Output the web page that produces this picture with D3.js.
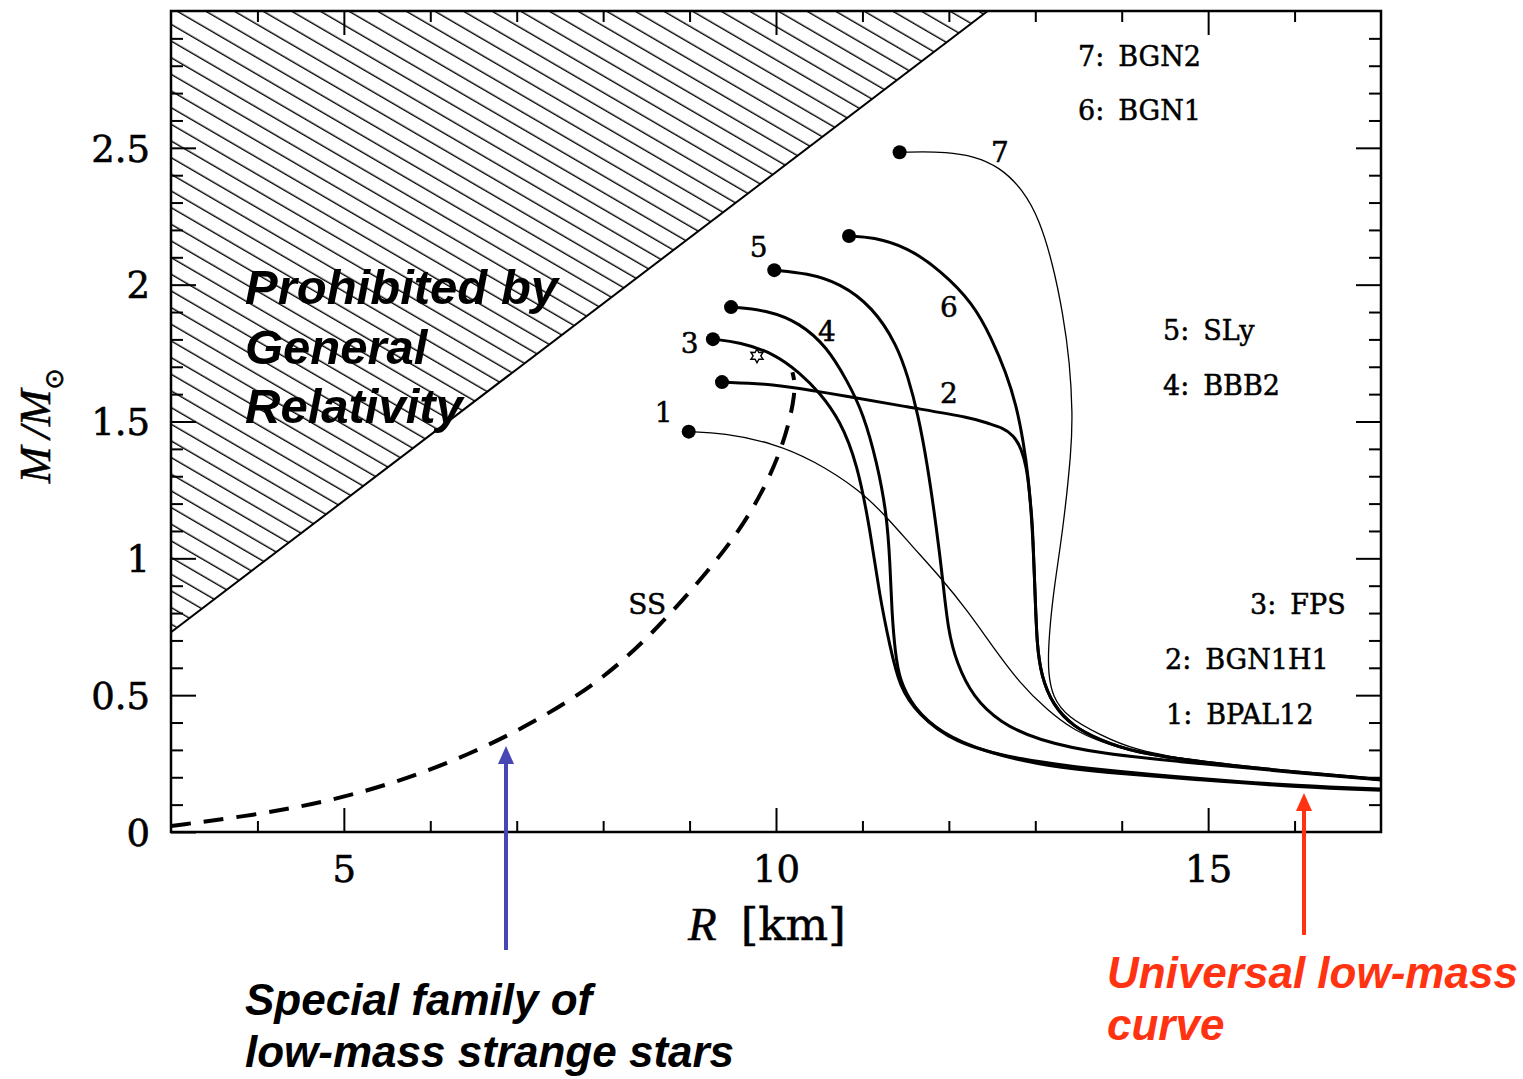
<!DOCTYPE html>
<html>
<head>
<meta charset="utf-8">
<script src="https://cdn.jsdelivr.net/npm/d3@7"></script>
<style>
  html, body { margin: 0; padding: 0; background: #ffffff; }
  svg { display: block; }
</style>
</head>
<body>
<svg id="chart" width="1523" height="1079"></svg>
<script>
// Neutron-star mass–radius relations (R in km, M in solar masses)
const eosKeys  = ["7", "6", "5", "4", "3", "2", "1"];
const eosNames = ["BGN2", "BGN1", "SLy", "BBB2", "FPS", "BGN1H1", "BPAL12"];

const curveBGN2 = [[11.43,2.484],[11.70,2.486],[11.95,2.484],[12.27,2.472],[12.59,2.430],[12.86,2.346],
  [13.05,2.236],[13.20,2.079],[13.32,1.896],[13.40,1.714],[13.43,1.531],[13.42,1.40],[13.32,1.10],
  [13.20,0.86],[13.15,0.676],[13.15,0.58],[13.20,0.493],[13.37,0.42],[13.75,0.355],[14.13,0.30],
  [14.91,0.255],[16.06,0.217],[17.0,0.192]];
const curveBGN1 = [[10.845,2.178],[11.12,2.174],[11.52,2.137],[11.90,2.053],[12.28,1.933],[12.50,1.80],
  [12.66,1.68],[12.78,1.56],[12.86,1.43],[12.92,1.30],[12.97,1.10],[13.00,0.85],[13.02,0.68],
  [13.07,0.57],[13.20,0.465],[13.44,0.384],[13.75,0.336],[14.13,0.292],[14.91,0.255],[16.06,0.217],[17.0,0.192]];
const curveSLy = [[9.98,2.053],[10.36,2.042],[10.74,2.006],[11.12,1.918],[11.40,1.78],[11.53,1.66],
  [11.64,1.53],[11.75,1.348],[11.86,1.103],[11.93,0.921],[11.99,0.738],[12.09,0.617],[12.28,0.493],
  [12.59,0.400],[13.02,0.336],[13.75,0.285],[14.91,0.250],[16.06,0.215],[17.0,0.19]];
const curveBBB2 = [[9.48,1.918],[9.90,1.907],[10.28,1.860],[10.59,1.772],[10.82,1.651],[11.01,1.531],
  [11.17,1.348],[11.28,1.166],[11.32,0.983],[11.34,0.800],[11.38,0.654],[11.43,0.555],[11.585,0.457],
  [11.90,0.362],[12.44,0.289],[13.20,0.237],[13.75,0.219],[14.91,0.19],[16.06,0.164],[17.0,0.153]];
const curveFPS = [[9.27,1.801],[9.58,1.790],[9.97,1.750],[10.28,1.677],[10.51,1.604],[10.74,1.505],
  [10.94,1.348],[11.09,1.103],[11.20,0.859],[11.32,0.676],[11.43,0.530],[11.63,0.435],[12.05,0.325],
  [12.82,0.263],[13.75,0.227],[14.91,0.194],[16.06,0.168],[17.0,0.157]];
const curveBGN1H1 = [[9.375,1.644],[9.97,1.637],[10.51,1.608],[10.74,1.597],[11.52,1.553],[12.28,1.513],
  [12.44,1.494],[12.62,1.478],[12.75,1.45],[12.84,1.40],[12.90,1.33],[12.93,1.25],[12.96,1.15],
  [12.97,1.10],[13.00,0.85],[13.02,0.68],[13.07,0.57],[13.20,0.465],[13.44,0.384],[13.75,0.336],
  [14.13,0.292],[14.91,0.255],[16.06,0.217],[17.0,0.192]];
const curveBPAL12 = [[8.99,1.463],[9.39,1.458],[9.97,1.421],[10.43,1.359],[10.97,1.250],[11.28,1.151],
  [11.585,1.041],[11.90,0.932],[12.21,0.811],[12.51,0.676],[12.82,0.544],[13.135,0.446],[13.44,0.373],
  [13.75,0.33],[14.13,0.292],[14.91,0.255],[16.06,0.217],[17.0,0.192]];

// Strange-star branch
const curveSS = [[3.0,0.022],[3.97,0.062],[4.80,0.110],[5.63,0.183],[6.44,0.281],[7.19,0.398],
  [7.96,0.548],[8.58,0.727],[9.20,0.946],[9.70,1.151],[10.08,1.396],[10.24,1.615],[10.19,1.68]];

// Causality / GR limit boundary
const grBoundary = [[3.0, 0.73], [12.45, 3.0]];

// Marked configuration on the FPS branch
const starMark = [9.78, 1.74];

const xTickValues = [5, 10, 15];
const yTickValues = [0, 0.5, 1, 1.5, 2, 2.5];
const yTickLabels = ["0", "0.5", "1", "1.5", "2", "2.5"];

// ---------------------------------------------------------------
const svg = d3.select("#chart");
const x = d3.scaleLinear().domain([3, 17]).range([171, 1381]);
const y = d3.scaleLinear().domain([0, 3]).range([832, 11]);

const curves = [
  {key: "7", pts: curveBGN2,   thin: true},
  {key: "6", pts: curveBGN1,   thin: false},
  {key: "5", pts: curveSLy,    thin: false},
  {key: "4", pts: curveBBB2,   thin: false},
  {key: "3", pts: curveFPS,    thin: false},
  {key: "2", pts: curveBGN1H1, thin: false},
  {key: "1", pts: curveBPAL12, thin: true}
];

const serif = "'DejaVu Serif', serif";

const defs = svg.append("defs");
defs.append("clipPath").attr("id", "plotClip")
  .append("rect").attr("x", x(3)).attr("y", y(3))
  .attr("width", x(17) - x(3)).attr("height", y(0) - y(3));

const hatch = defs.append("pattern").attr("id", "hatch")
  .attr("patternUnits", "userSpaceOnUse")
  .attr("width", 24).attr("height", 14.4)
  .attr("patternTransform", "rotate(30.2)");
hatch.append("line").attr("x1", 0).attr("x2", 24).attr("y1", 7).attr("y2", 7)
  .attr("stroke", "#000").attr("stroke-width", 1.4);

const plot = svg.append("g").attr("clip-path", "url(#plotClip)");

// Forbidden region
const region = [[3, 3], grBoundary[0], grBoundary[1]];
plot.append("path")
  .attr("d", d3.line().x(d => x(d[0])).y(d => y(d[1]))(region) + "Z")
  .attr("fill", "url(#hatch)").attr("stroke", "none");
plot.append("path")
  .attr("d", d3.line().x(d => x(d[0])).y(d => y(d[1]))(grBoundary))
  .attr("fill", "none").attr("stroke", "#000").attr("stroke-width", 2);

const lineGen = d3.line().x(d => x(d[0])).y(d => y(d[1])).curve(d3.curveBasis);

plot.selectAll("path.eos").data(curves).join("path")
  .attr("class", "eos")
  .attr("d", d => lineGen(d.pts))
  .attr("fill", "none").attr("stroke", "#000")
  .attr("stroke-width", d => d.thin ? 1.3 : 3)
  .attr("stroke-linejoin", "round");

plot.append("path")
  .attr("d", lineGen(curveSS))
  .attr("fill", "none").attr("stroke", "#000")
  .attr("stroke-width", 4).attr("stroke-dasharray", "20 13");

// Maximum-mass configurations
plot.selectAll("circle.max").data(curves).join("circle")
  .attr("class", "max")
  .attr("cx", d => x(d.pts[0][0])).attr("cy", d => y(d.pts[0][1]))
  .attr("r", 7).attr("fill", "#000");

// Six-pointed star marker
(function () {
  const cx = x(starMark[0]), cy = y(starMark[1]);
  const pts = d3.range(12).map(i => {
    const a = -Math.PI / 2 + i * Math.PI / 6;
    const r = i % 2 === 0 ? 7 : 3.8;
    return [cx + r * Math.cos(a), cy + r * Math.sin(a)];
  });
  plot.append("path").attr("d", d3.line()(pts) + "Z")
    .attr("fill", "#fff").attr("stroke", "#000").attr("stroke-width", 1.4);
})();

// Frame
svg.append("rect").attr("x", x(3)).attr("y", y(3))
  .attr("width", x(17) - x(3)).attr("height", y(0) - y(3))
  .attr("fill", "none").attr("stroke", "#000").attr("stroke-width", 2.5);

// Ticks
const xMinor = d3.range(4, 17, 1).filter(v => v % 5 !== 0);
const yMinor = d3.range(1, 30, 1).map(v => v / 10).filter(v => Math.abs(v * 2 - Math.round(v * 2)) > 1e-6);
const yMajorInner = [0.5, 1, 1.5, 2, 2.5];

function styleAxis(g) {
  g.select(".domain").remove();
  g.selectAll("line").attr("stroke", "#000").attr("stroke-width", 2);
}
svg.append("g").attr("transform", `translate(0,${y(0)})`)
  .call(d3.axisBottom(x).tickValues(xMinor).tickSize(-11).tickFormat("")).call(styleAxis);
svg.append("g").attr("transform", `translate(0,${y(3)})`)
  .call(d3.axisTop(x).tickValues(xMinor).tickSize(-11).tickFormat("")).call(styleAxis);
svg.append("g").attr("transform", `translate(0,${y(3)})`)
  .call(d3.axisTop(x).tickValues(xTickValues).tickSize(-24).tickFormat("")).call(styleAxis);
svg.append("g").attr("transform", `translate(${x(3)},0)`)
  .call(d3.axisLeft(y).tickValues(yMinor).tickSize(-12).tickFormat("")).call(styleAxis);
svg.append("g").attr("transform", `translate(${x(17)},0)`)
  .call(d3.axisRight(y).tickValues(yMinor).tickSize(-12).tickFormat("")).call(styleAxis);
svg.append("g").attr("transform", `translate(${x(17)},0)`)
  .call(d3.axisRight(y).tickValues(yMajorInner).tickSize(-25).tickFormat("")).call(styleAxis);

const xAxis = svg.append("g").attr("transform", `translate(0,${y(0)})`)
  .call(d3.axisBottom(x).tickValues(xTickValues).tickSize(-24).tickFormat(d3.format("d")))
  .call(styleAxis);
xAxis.selectAll("text")
  .attr("y", 50).attr("dy", 0).attr("fill", "#000")
  .attr("stroke", "#000").attr("stroke-width", 0.6)
  .style("font-family", serif).style("font-size", "37px");

const yAxis = svg.append("g").attr("transform", `translate(${x(3)},0)`)
  .call(d3.axisLeft(y).tickValues(yTickValues).tickSize(-25)
    .tickFormat((d, i) => yTickLabels[i]))
  .call(styleAxis);
yAxis.selectAll("text")
  .attr("x", -21).attr("dy", "0.36em").attr("fill", "#000")
  .attr("stroke", "#000").attr("stroke-width", 0.6)
  .style("font-family", serif).style("font-size", "37px");

// Axis titles
const xTitle = svg.append("text").attr("x", 688).attr("y", 940).attr("fill", "#000")
  .attr("stroke", "#000").attr("stroke-width", 0.5);
xTitle.append("tspan").text("R")
  .style("font-family", "'Liberation Serif', serif").style("font-style", "italic").style("font-size", "47px");
xTitle.append("tspan").attr("dx", 24).text("[km]")
  .style("font-family", serif).style("font-size", "45px");

const yTitle = svg.append("text")
  .attr("transform", `translate(50,${(y(0) + y(3)) / 2 + 4}) rotate(-90)`)
  .attr("text-anchor", "middle").attr("fill", "#000")
  .attr("stroke", "#000").attr("stroke-width", 0.5)
  .style("font-family", "'Liberation Serif', serif").style("font-size", "44px");
yTitle.append("tspan").text("M").style("font-style", "italic");
yTitle.append("tspan").attr("dx", 8).text("/").style("font-style", "italic");
yTitle.append("tspan").text("M").style("font-style", "italic");
yTitle.append("tspan").attr("dy", 13).text("\u2299")
  .style("font-family", "'DejaVu Sans', sans-serif").style("font-size", "26px");

// Curve numbers
const labelSpots = {"7": [12.59, 2.484], "6": [12.0, 1.918], "5": [9.80, 2.137], "4": [10.59, 1.83],
                    "3": [9.0, 1.787], "2": [12.0, 1.604], "1": [8.70, 1.535]};
svg.selectAll("text.num").data(eosKeys).join("text")
  .attr("class", "num")
  .attr("x", d => x(labelSpots[d][0])).attr("y", d => y(labelSpots[d][1]))
  .attr("dy", "0.36em").attr("text-anchor", "middle").attr("fill", "#000")
  .attr("stroke", "#000").attr("stroke-width", 0.5)
  .style("font-family", serif).style("font-size", "28px")
  .text(d => d);
svg.append("text").attr("x", x(8.51)).attr("y", y(0.833)).attr("dy", "0.36em")
  .attr("text-anchor", "middle").attr("fill", "#000")
  .attr("stroke", "#000").attr("stroke-width", 0.5)
  .style("font-family", serif).style("font-size", "28px").text("SS");

// Legend of EOS names
const legendPos = [[1078, 66], [1078, 120], [1163, 340], [1163, 395], [1250, 614], [1165, 669], [1166, 724]];
const legend = svg.selectAll("text.leg").data(eosKeys).join("text")
  .attr("class", "leg")
  .attr("x", (d, i) => legendPos[i][0]).attr("y", (d, i) => legendPos[i][1])
  .attr("fill", "#000").attr("stroke", "#000").attr("stroke-width", 0.5)
  .style("font-family", serif).style("font-size", "27px");
legend.append("tspan").text(d => d + ":");
legend.append("tspan").attr("dx", 14).text((d, i) => eosNames[i]);

// Annotations
const ann = svg.append("g")
  .style("font-family", "'Liberation Sans', Arial, sans-serif")
  .style("font-weight", "bold").style("font-style", "italic");
[["Prohibited by", 304], ["General", 364], ["Relativity", 423]].forEach(([t, yy]) =>
  ann.append("text").attr("x", 245).attr("y", yy).attr("fill", "#000")
    .style("font-size", "49px").text(t));
[["Special family of", 1015], ["low-mass strange stars", 1067]].forEach(([t, yy]) =>
  ann.append("text").attr("x", 245).attr("y", yy).attr("fill", "#000")
    .style("font-size", "44px").text(t));
[["Universal low-mass", 988], ["curve", 1040]].forEach(([t, yy]) =>
  ann.append("text").attr("x", 1107).attr("y", yy).attr("fill", "#ff3311")
    .style("font-size", "44px").text(t));

// Arrows
function arrow(xPos, yTail, yTip, color) {
  svg.append("line").attr("x1", xPos).attr("x2", xPos).attr("y1", yTail).attr("y2", yTip + 14)
    .attr("stroke", color).attr("stroke-width", 4);
  svg.append("path")
    .attr("d", d3.line()([[xPos, yTip], [xPos - 8, yTip + 18], [xPos + 8, yTip + 18]]) + "Z")
    .attr("fill", color);
}
arrow(506, 950, 746, "#4646b4");
arrow(1304, 935, 793, "#ff3311");
</script>
</body>
</html>
